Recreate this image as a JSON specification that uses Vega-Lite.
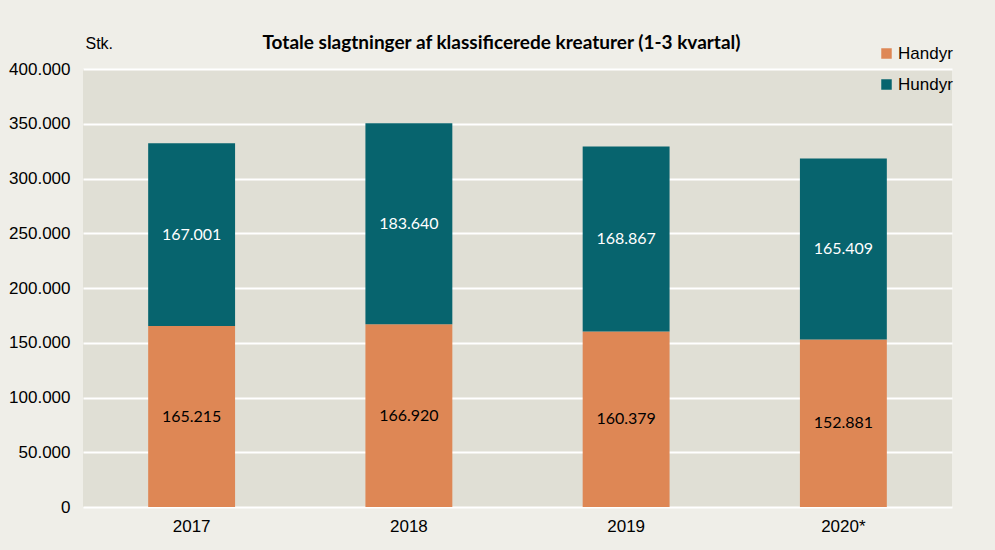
{
  "$schema": "https://vega.github.io/schema/vega-lite/v6.json",
  "autosize": "none",
  "width": 869,
  "height": 438,
  "padding": {"left": 83, "top": 69, "right": 43, "bottom": 43},
  "background": "#EFEEE8",
  "config": {
    "locale": {"number": {"decimal": ",", "thousands": ".", "grouping": [3], "currency": ["", " kr."]}},
    "view": {"fill": "#E0DFD5", "stroke": null}
  },
  "title": {
    "text": "Totale slagtninger af klassificerede kreaturer (1-3 kvartal)",
    "anchor": "middle",
    "dx": -16,
    "offset": -18,
    "font": "Lato",
    "fontSize": 19,
    "fontWeight": "bold",
    "color": "#000000"
  },
  "data": {
    "values": [
      {"year": "2017", "series": "Handyr", "value": 165215},
      {"year": "2017", "series": "Hundyr", "value": 167001},
      {"year": "2018", "series": "Handyr", "value": 166920},
      {"year": "2018", "series": "Hundyr", "value": 183640},
      {"year": "2019", "series": "Handyr", "value": 160379},
      {"year": "2019", "series": "Hundyr", "value": 168867},
      {"year": "2020*", "series": "Handyr", "value": 152881},
      {"year": "2020*", "series": "Hundyr", "value": 165409}
    ]
  },
  "encoding": {
    "x": {
      "field": "year",
      "type": "nominal",
      "sort": null,
      "scale": {"paddingInner": 0.6, "paddingOuter": 0.3},
      "axis": {
        "title": null,
        "labelAngle": 0,
        "domain": false,
        "ticks": false,
        "labelPadding": 11,
        "labelFont": "Liberation Sans",
        "labelFontSize": 17,
        "labelColor": "#000000"
      }
    }
  },
  "layer": [
    {
      "mark": {"type": "bar"},
      "encoding": {
        "y": {
          "field": "value",
          "type": "quantitative",
          "stack": "zero",
          "scale": {"domain": [0, 400000], "nice": false},
          "axis": {
            "values": [0, 50000, 100000, 150000, 200000, 250000, 300000, 350000, 400000],
            "format": ",d",
            "domain": false,
            "ticks": false,
            "grid": true,
            "gridColor": "#FFFFFF",
            "gridWidth": 2,
            "labelPadding": 13,
            "labelFont": "Liberation Sans",
            "labelFontSize": 17,
            "labelColor": "#000000",
            "title": "Stk.",
            "titleAngle": 0,
            "titleAlign": "left",
            "titleBaseline": "middle",
            "titleX": 2,
            "titleY": -26,
            "titleFont": "Liberation Sans",
            "titleFontSize": 16,
            "titleFontWeight": "normal",
            "titleColor": "#000000"
          }
        },
        "color": {
          "field": "series",
          "type": "nominal",
          "scale": {"domain": ["Handyr", "Hundyr"], "range": ["#DE8755", "#07646E"]},
          "legend": {
            "title": null,
            "orient": "none",
            "legendX": 795,
            "legendY": -24,
            "symbolType": "square",
            "symbolSize": 110,
            "symbolStrokeWidth": 0,
            "rowPadding": 13,
            "labelOffset": 3,
            "labelFont": "Liberation Sans",
            "labelFontSize": 17,
            "labelColor": "#000000"
          }
        },
        "order": {"field": "series", "sort": "ascending"}
      }
    },
    {
      "transform": [
        {"stack": "value", "groupby": ["year"], "sort": [{"field": "series", "order": "ascending"}], "as": ["v0", "v1"]},
        {"calculate": "(datum.v0 + datum.v1) / 2", "as": "mid"}
      ],
      "mark": {"type": "text", "font": "Lato", "fontSize": 16, "baseline": "middle", "align": "center"},
      "encoding": {
        "y": {"field": "mid", "type": "quantitative"},
        "text": {"field": "value", "type": "quantitative", "format": ",d"},
        "fill": {
          "condition": {"test": "datum.series === 'Hundyr'", "value": "#FFFFFF"},
          "value": "#000000"
        }
      }
    }
  ]
}
